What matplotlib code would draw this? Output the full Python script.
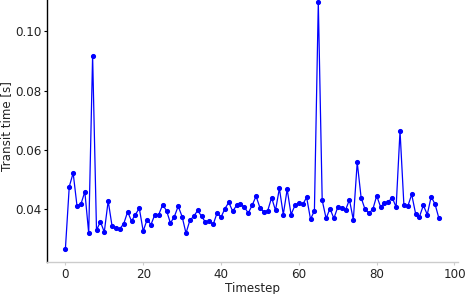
import matplotlib
matplotlib.use("Agg")
import matplotlib.pyplot as plt
import numpy as np

timesteps = list(range(97))
transit_time = [
    0.0266, 0.0477, 0.0523, 0.0411, 0.0418, 0.0460, 0.0320, 0.0918, 0.0330, 0.0359,
    0.0324, 0.0429, 0.0344, 0.0336, 0.0335, 0.0352, 0.0392, 0.0361, 0.0383, 0.0404,
    0.0327, 0.0366, 0.0349, 0.0383, 0.0383, 0.0416, 0.0396, 0.0354, 0.0376, 0.0411,
    0.0376, 0.0320, 0.0364, 0.0377, 0.0397, 0.0377, 0.0357, 0.0361, 0.0350, 0.0389,
    0.0374, 0.0403, 0.0424, 0.0394, 0.0414, 0.0418, 0.0408, 0.0388, 0.0414, 0.0445,
    0.0406, 0.0392, 0.0396, 0.0440, 0.0397, 0.0471, 0.0383, 0.0468, 0.0383, 0.0414,
    0.0421, 0.0417, 0.0441, 0.0367, 0.0396, 0.1098, 0.0431, 0.0370, 0.0403, 0.0370,
    0.0408, 0.0404, 0.0398, 0.0433, 0.0365, 0.0559, 0.0440, 0.0401, 0.0388, 0.0400,
    0.0446, 0.0409, 0.0421, 0.0426, 0.0440, 0.0408, 0.0665, 0.0414, 0.0411, 0.0451,
    0.0386, 0.0376, 0.0414, 0.0383, 0.0443, 0.0418, 0.0370,
]
xticks = [0, 20, 40, 60, 80, 100]
yticks = [0.04, 0.06, 0.08, 0.10]

fig = plt.figure(figsize=(4.66, 2.94), dpi=100)
ax = fig.add_axes([0.1002, 0.1088, 0.8818, 0.9276])
ax.plot(timesteps, transit_time, color="#0000ff", linewidth=0.9,
        marker="o", markersize=2.7)

ax.set_xlim(-4.8, 100.8)
ax.set_ylim(0.0223, 0.1142)
ax.set_xticks(xticks)
ax.set_yticks(yticks)
ax.set_xticklabels([str(t) for t in xticks])
ax.set_yticklabels([f"{t:.2f}" for t in yticks])

for s in ["top", "right"]:
    ax.spines[s].set_visible(False)
ax.spines["left"].set_color("black")
ax.spines["left"].set_linewidth(1.0)
ax.spines["bottom"].set_color("#cccccc")
ax.spines["bottom"].set_linewidth(1.0)

ax.tick_params(axis="y", length=2.5, width=0.8, color="black", pad=1.5,
               labelsize=8.6, labelcolor="#222222")
ax.tick_params(axis="x", length=2.5, width=0.8, color="#cccccc", pad=2.0,
               labelsize=8.6, labelcolor="#222222")

ax.set_xlabel("Timestep", fontsize=8.6, color="#222222", labelpad=0.5)
ax.set_ylabel("Transit time [s]", fontsize=8.6, color="#222222", labelpad=1.0)

fig.savefig("out.png", dpi=100)
